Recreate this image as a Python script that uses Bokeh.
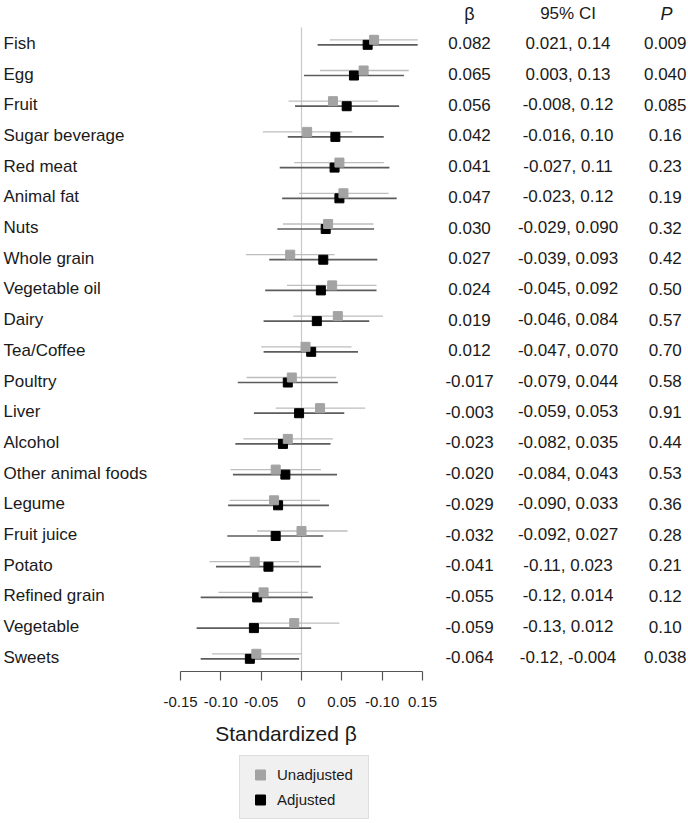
import numpy as np
from bokeh.plotting import figure
from bokeh.models import (ColumnDataSource, Range1d, LinearAxis, FixedTicker,
                          Legend, LegendItem)
from bokeh.core.properties import value
from bokeh.embed import file_html
from bokeh.resources import INLINE

foods = ["Fish", "Egg", "Fruit", "Sugar beverage", "Red meat", "Animal fat", "Nuts",
         "Whole grain", "Vegetable oil", "Dairy", "Tea/Coffee", "Poultry", "Liver",
         "Alcohol", "Other animal foods", "Legume", "Fruit juice", "Potato",
         "Refined grain", "Vegetable", "Sweets"]

# Adjusted (black)
adj_beta = [0.082, 0.065, 0.056, 0.042, 0.041, 0.047, 0.030, 0.027, 0.024, 0.019, 0.012,
            -0.017, -0.003, -0.023, -0.020, -0.029, -0.032, -0.041, -0.055, -0.059, -0.064]
adj_lo = [0.020, 0.003, -0.008, -0.017, -0.027, -0.024, -0.030, -0.040, -0.045, -0.047, -0.047,
          -0.079, -0.059, -0.082, -0.085, -0.091, -0.092, -0.106, -0.125, -0.130, -0.125]
adj_hi = [0.144, 0.127, 0.121, 0.102, 0.109, 0.118, 0.090, 0.094, 0.093, 0.084, 0.070,
          0.045, 0.053, 0.036, 0.044, 0.034, 0.027, 0.024, 0.014, 0.012, -0.003]

# Unadjusted (gray)
unadj_beta = [0.090, 0.077, 0.039, 0.007, 0.047, 0.052, 0.033, -0.014, 0.038, 0.045, 0.005,
              -0.012, 0.023, -0.017, -0.032, -0.034, 0.000, -0.058, -0.047, -0.009, -0.056]
unadj_lo = [0.035, 0.023, -0.016, -0.048, -0.009, -0.003, -0.023, -0.069, -0.018, -0.010, -0.050,
            -0.068, -0.032, -0.072, -0.088, -0.089, -0.055, -0.114, -0.103, -0.065, -0.111]
unadj_hi = [0.144, 0.133, 0.095, 0.063, 0.102, 0.108, 0.089, 0.041, 0.093, 0.101, 0.062,
            0.043, 0.079, 0.039, 0.024, 0.023, 0.057, -0.003, 0.008, 0.047, 0.000]

beta_txt = ["0.082", "0.065", "0.056", "0.042", "0.041", "0.047", "0.030", "0.027", "0.024",
            "0.019", "0.012", "-0.017", "-0.003", "-0.023", "-0.020", "-0.029", "-0.032",
            "-0.041", "-0.055", "-0.059", "-0.064"]
ci_txt = ["0.021, 0.14", "0.003, 0.13", "-0.008, 0.12", "-0.016, 0.10", "-0.027, 0.11",
          "-0.023, 0.12", "-0.029, 0.090", "-0.039, 0.093", "-0.045, 0.092", "-0.046, 0.084",
          "-0.047, 0.070", "-0.079, 0.044", "-0.059, 0.053", "-0.082, 0.035", "-0.084, 0.043",
          "-0.090, 0.033", "-0.092, 0.027", "-0.11, 0.023", "-0.12, 0.014", "-0.13, 0.012",
          "-0.12, -0.004"]
p_txt = ["0.009", "0.040", "0.085", "0.16", "0.23", "0.19", "0.32", "0.42", "0.50", "0.57",
         "0.70", "0.58", "0.91", "0.44", "0.53", "0.36", "0.28", "0.21", "0.12", "0.10", "0.038"]

headers = ["β", "95% CI", "P"]
axis_title = "Standardized β"

tick_vals = [-0.15, -0.10, -0.05, 0.0, 0.05, 0.10, 0.15]
tick_labels = ["-0.15", "-0.10", "-0.05", "0", "0.05", "-0.10", "0.15"]

FONT = "Liberation Sans"
TXT = "#1a1a1a"

n = len(foods)
rows = np.arange(n, dtype=float)
off = 0.082  # vertical dodge between the two series (row units)

src_adj = ColumnDataSource(dict(y=rows + off, b=adj_beta, lo=adj_lo, hi=adj_hi))
src_un = ColumnDataSource(dict(y=rows - off, b=unadj_beta, lo=unadj_lo, hi=unadj_hi))
src_txt = ColumnDataSource(dict(y=rows + 0.035, food=foods, beta=beta_txt, ci=ci_txt, p=p_txt))

# layout positions (data units of the beta scale / row scale)
col_beta, col_ci, col_p = 0.2083, 0.3304, 0.4509
axis_y = 20.495          # row-scale position of the x axis line
header_y = -0.938

p = figure(frame_width=688, frame_height=823, output_backend="svg", toolbar_location=None,
           x_axis_location=None, y_axis_location=None, min_border=0,
           x_range=Range1d(-0.37313, 0.47973), y_range=Range1d(25.446, -1.3616))
p.outline_line_color = None
p.xgrid.visible = False
p.ygrid.visible = False

# zero reference line
p.segment(x0=0, x1=0, y0=-0.482, y1=axis_y, line_color="#c8c8c8", line_width=1.2)

# CI lines
p.segment(x0="lo", x1="hi", y0="y", y1="y", source=src_adj, line_color="#5c5c5c", line_width=1.7)
p.segment(x0="lo", x1="hi", y0="y", y1="y", source=src_un, line_color="#bdbdbd", line_width=1.3)

# point estimates
r_adj = p.scatter(x="b", y="y", source=src_adj, marker="square", size=9,
                  fill_color="#000000", line_color="#000000")
r_un = p.scatter(x="b", y="y", source=src_un, marker="square", size=9,
                 fill_color="#a3a3a3", line_color="#a3a3a3")

txt_kw = dict(text_font=value(FONT), text_color=TXT, text_baseline="middle")

# row labels and table columns
p.text(x=-0.3694, y="y", text="food", source=src_txt, text_align="left",
       text_font_size="17px", **txt_kw)
p.text(x=col_beta, y="y", text="beta", source=src_txt, text_align="center",
       text_font_size="17px", **txt_kw)
p.text(x=col_ci, y="y", text="ci", source=src_txt, text_align="center",
       text_font_size="17px", **txt_kw)
p.text(x=col_p, y="y", text="p", source=src_txt, text_align="center",
       text_font_size="17px", **txt_kw)

# headers
p.text(x=[col_beta], y=[header_y], text=[headers[0]], text_align="center",
       text_font_size="18px", **txt_kw)
p.text(x=[col_ci], y=[header_y], text=[headers[1]], text_align="center",
       text_font_size="17px", **txt_kw)
p.text(x=[col_p + 0.0015], y=[header_y], text=[headers[2]], text_align="center",
       text_font_size="18px", text_font_style="italic", **txt_kw)

# axis title
p.text(x=[-0.0192], y=[22.515], text=[axis_title], text_align="center",
       text_font_size="21px", **txt_kw)

# x axis, pinned at the bottom of the forest area
ax = LinearAxis(ticker=FixedTicker(ticks=tick_vals), bounds=(-0.15, 0.15),
                fixed_location=axis_y,
                major_label_overrides={v: s for v, s in zip(tick_vals, tick_labels)})
ax.axis_line_color = "#555555"
ax.axis_line_width = 1.2
ax.major_tick_line_color = "#555555"
ax.major_tick_line_width = 1.2
ax.major_tick_out = 9
ax.major_tick_in = 0
ax.minor_tick_out = 0
ax.minor_tick_in = 0
ax.major_label_standoff = 16
ax.major_label_text_font = FONT
ax.major_label_text_font_size = "15px"
ax.major_label_text_color = TXT
p.add_layout(ax, "below")

legend = Legend(items=[LegendItem(label="Unadjusted", renderers=[r_un]),
                       LegendItem(label="Adjusted", renderers=[r_adj])],
                location=(239, 4), orientation="vertical",
                label_text_font=FONT, label_text_font_size="15px", label_text_color=TXT,
                glyph_width=28, glyph_height=25, label_height=25, label_width=85,
                spacing=0, padding=6, margin=0, label_standoff=3,
                background_fill_color="#f0f0f0", background_fill_alpha=1.0,
                border_line_color="#cccccc", border_line_width=1)
p.add_layout(legend, "center")

open("out.html", "w").write(file_html(p, INLINE))
